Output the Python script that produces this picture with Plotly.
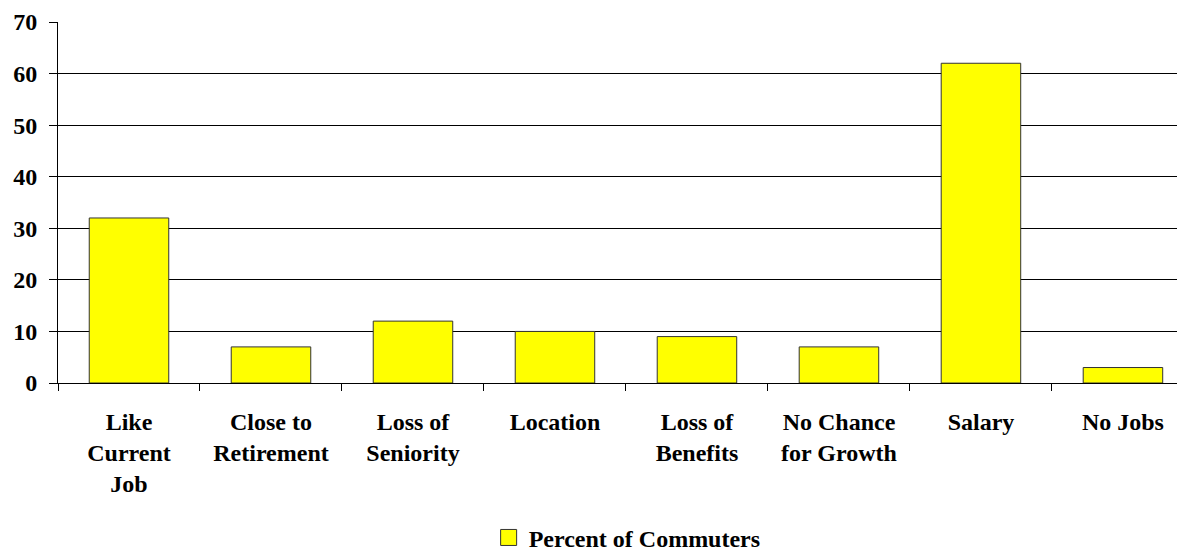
import plotly.graph_objects as go

categories = ["Like<br>Current<br>Job", "Close to<br>Retirement", "Loss of<br>Seniority", "Location",
              "Loss of<br>Benefits", "No Chance<br>for Growth", "Salary", "No Jobs"]
values = [32, 7, 12, 10, 9, 7, 62, 3]
series_name = "Percent of Commuters"
y_ticks = [0, 10, 20, 30, 40, 50, 60, 70]

FONT = dict(family="Liberation Serif, Times New Roman, serif", size=24, color="black", weight="bold")

fig = go.Figure()
fig.add_trace(go.Bar(
    x=categories, y=values, name=series_name, legendgroup="s",
    marker=dict(color="#FFFF00", line=dict(color="#333333", width=1)),
    width=0.56, showlegend=False,
))
# legend swatch (larger square like the original)
fig.add_trace(go.Scatter(
    x=[None], y=[None], mode="markers", name=series_name, legendgroup="s",
    marker=dict(symbol="square", size=16, color="#FFFF00", line=dict(color="#333333", width=1)),
    showlegend=True, hoverinfo="skip",
))

# page body has an 8px margin, so the figure is 8px smaller and offset
fig.update_layout(
    width=1177, height=544,
    margin=dict(l=50, r=0, t=14, b=169),
    plot_bgcolor="white", paper_bgcolor="white",
    font=FONT,
    showlegend=True,
    legend=dict(orientation="h", x=0.505, xanchor="center", yref="container", y=0.026, yanchor="middle",
                font=FONT, bgcolor="rgba(0,0,0,0)", itemwidth=30),
    bargap=0.44,
)
fig.update_xaxes(
    range=[-0.5, 7.437], showline=True, linecolor="black", linewidth=1,
    ticks="outside", tickson="boundaries", ticklen=7, tickcolor="black",
    showgrid=False, tickfont=FONT, ticklabelstandoff=17,
)
fig.update_yaxes(
    range=[0, 70], tickvals=y_ticks, showline=True, linecolor="black", linewidth=1,
    ticks="outside", ticklen=8, tickcolor="black",
    showgrid=True, gridcolor="black", gridwidth=1, zeroline=False,
    tickfont=FONT, ticklabelstandoff=7,
)

fig.write_html("out.html")
